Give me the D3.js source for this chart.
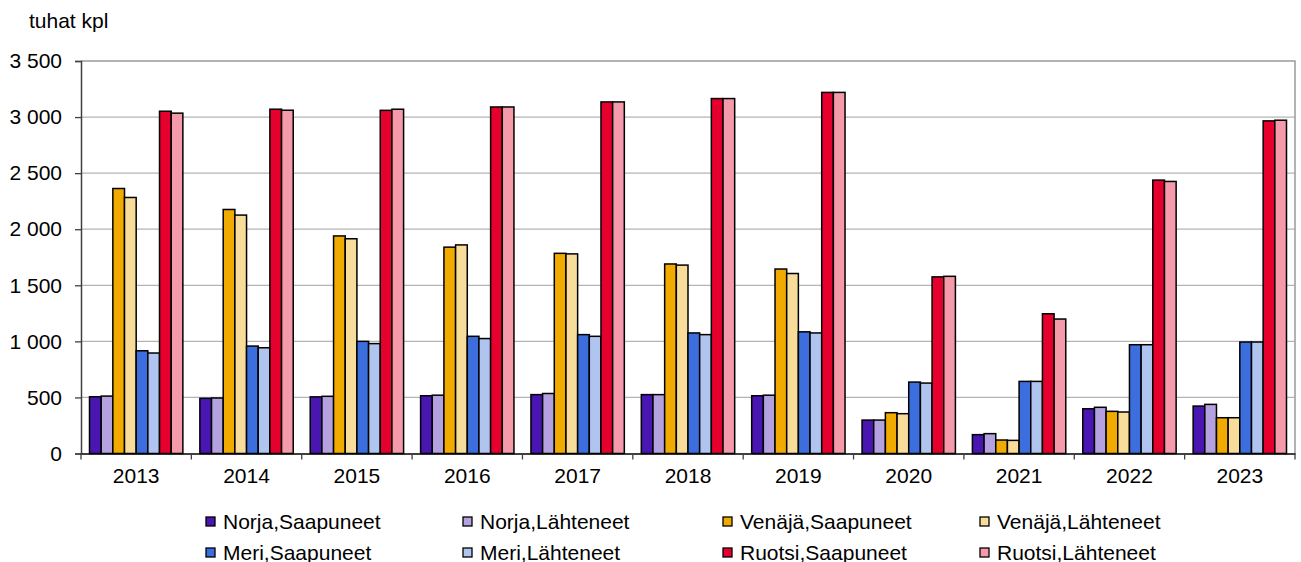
<!DOCTYPE html>
<html>
<head>
<meta charset="utf-8">
<script src="https://cdn.jsdelivr.net/npm/d3@7"></script>
<style>
  body { margin: 0; background: #fff; }
  text { font-family: "Liberation Sans", Arial, sans-serif; fill: #000; }
</style>
</head>
<body>
<div id="chart"></div>
<script>
const years = ['2013','2014','2015','2016','2017','2018','2019','2020','2021','2022','2023'];
const seriesNames = ['Norja,Saapuneet','Norja,Lähteneet','Venäjä,Saapuneet','Venäjä,Lähteneet',
  'Meri,Saapuneet','Meri,Lähteneet','Ruotsi,Saapuneet','Ruotsi,Lähteneet'];
const seriesColors = ['#4a16b2','#b4a2e0','#f0aa00','#f8dc9a','#3c6ede','#b0c4f0','#e6002e','#f49aaa'];

const norjaSaap   = [506, 492, 505, 515, 525, 525, 515, 298, 168, 399, 423];
const norjaLaht   = [512, 495, 510, 520, 535, 525, 520, 298, 177, 412, 438];
const venajaSaap  = [2363, 2176, 1940, 1840, 1785, 1690, 1645, 364, 120, 376, 319];
const venajaLaht  = [2283, 2126, 1915, 1860, 1780, 1680, 1605, 355, 117, 370, 319];
const meriSaap    = [916, 958, 1000, 1045, 1060, 1075, 1085, 637, 643, 970, 994];
const meriLaht    = [896, 943, 980, 1025, 1045, 1060, 1075, 628, 643, 970, 994];
const ruotsiSaap  = [3052, 3070, 3060, 3090, 3135, 3165, 3220, 1575, 1246, 2438, 2966];
const ruotsiLaht  = [3035, 3061, 3070, 3090, 3135, 3165, 3220, 1580, 1199, 2426, 2972];
const yTicks = [0, 500, 1000, 1500, 2000, 2500, 3000, 3500];

const allSeries = [norjaSaap, norjaLaht, venajaSaap, venajaLaht, meriSaap, meriLaht, ruotsiSaap, ruotsiLaht];

const width = 1301, height = 562;
const plot = { left: 81, right: 1295, top: 61, bottom: 453.5 };
const fontSize = '21px';

const svg = d3.select('#chart').append('svg')
  .attr('width', width).attr('height', height);

const x0 = d3.scaleBand().domain(years).range([plot.left, plot.right]);
const x1 = d3.scaleBand().domain(d3.range(seriesNames.length))
  .range([8.5, x0.bandwidth() - 8.5]);
const y = d3.scaleLinear().domain([0, 3500]).range([plot.bottom, plot.top]);

const fmt = v => d3.format(',')(v).replace(/,/g, ' ');

// gridlines
svg.append('g').selectAll('line')
  .data(yTicks.filter(t => t > 0 && t < 3500))
  .join('line')
  .attr('x1', plot.left).attr('x2', plot.right)
  .attr('y1', d => y(d)).attr('y2', d => y(d))
  .attr('stroke', '#b4b4b4').attr('stroke-width', 1.3);

// frame top + right
svg.append('path')
  .attr('d', `M${plot.left},${y(3500)}H${plot.right}V${plot.bottom}`)
  .attr('fill', 'none').attr('stroke', '#9a9a9a').attr('stroke-width', 1.5);

// bars
const groups = svg.append('g').selectAll('g')
  .data(years)
  .join('g')
  .attr('transform', d => `translate(${x0(d)},0)`);

groups.selectAll('rect')
  .data((yr, i) => allSeries.map((s, k) => ({ k, v: s[i] })))
  .join('rect')
  .attr('x', d => x1(d.k))
  .attr('width', x1.bandwidth())
  .attr('y', d => y(d.v))
  .attr('height', d => y(0) - y(d.v))
  .attr('fill', d => seriesColors[d.k])
  .attr('stroke', '#000')
  .attr('stroke-width', 1.5);

// y axis
const yAxis = svg.append('g')
  .attr('transform', `translate(${plot.left},0)`)
  .call(d3.axisLeft(y).tickValues(yTicks).tickFormat(fmt).tickSize(6).tickPadding(13));
yAxis.select('.domain').attr('stroke', '#404040').attr('stroke-width', 1.5);
yAxis.selectAll('.tick line').attr('stroke', '#404040').attr('stroke-width', 1.3);
yAxis.selectAll('.tick text')
  .style('font-family', '"Liberation Sans", Arial, sans-serif')
  .style('font-size', fontSize).attr('fill', '#000');

// x axis
const xAxis = svg.append('g')
  .attr('transform', `translate(0,${plot.bottom})`)
  .call(d3.axisBottom(x0).tickSize(0).tickPadding(15));
xAxis.select('.domain').attr('stroke', '#000').attr('stroke-width', 1.5);
xAxis.selectAll('.tick text')
  .style('font-family', '"Liberation Sans", Arial, sans-serif')
  .style('font-size', fontSize).attr('fill', '#000');
xAxis.append('g').selectAll('line')
  .data(d3.range(years.length + 1))
  .join('line')
  .attr('x1', i => plot.left + i * x0.step())
  .attr('x2', i => plot.left + i * x0.step())
  .attr('y1', 0).attr('y2', 6)
  .attr('stroke', '#404040').attr('stroke-width', 1.3);

// unit label
svg.append('text')
  .attr('x', 29).attr('y', 28)
  .style('font-size', fontSize)
  .text('tuhat kpl');

// legend
const legCols = [206, 463, 723, 980];
const legRows = [517, 548];
const legend = svg.append('g').selectAll('g')
  .data(seriesNames)
  .join('g')
  .attr('transform', (d, i) => {
    const row = i < 4 ? 0 : 1;
    const col = [0, 1, 0, 1][i % 4] + (Math.floor(i / 2) % 2) * 2;
    return `translate(${legCols[col]},${legRows[row]})`;
  });
legend.append('rect')
  .attr('width', 9).attr('height', 9)
  .attr('fill', (d, i) => seriesColors[i])
  .attr('stroke', '#000').attr('stroke-width', 1.3);
legend.append('text')
  .attr('x', 17).attr('y', 11.5)
  .style('font-size', fontSize)
  .text(d => d);
</script>
</body>
</html>
